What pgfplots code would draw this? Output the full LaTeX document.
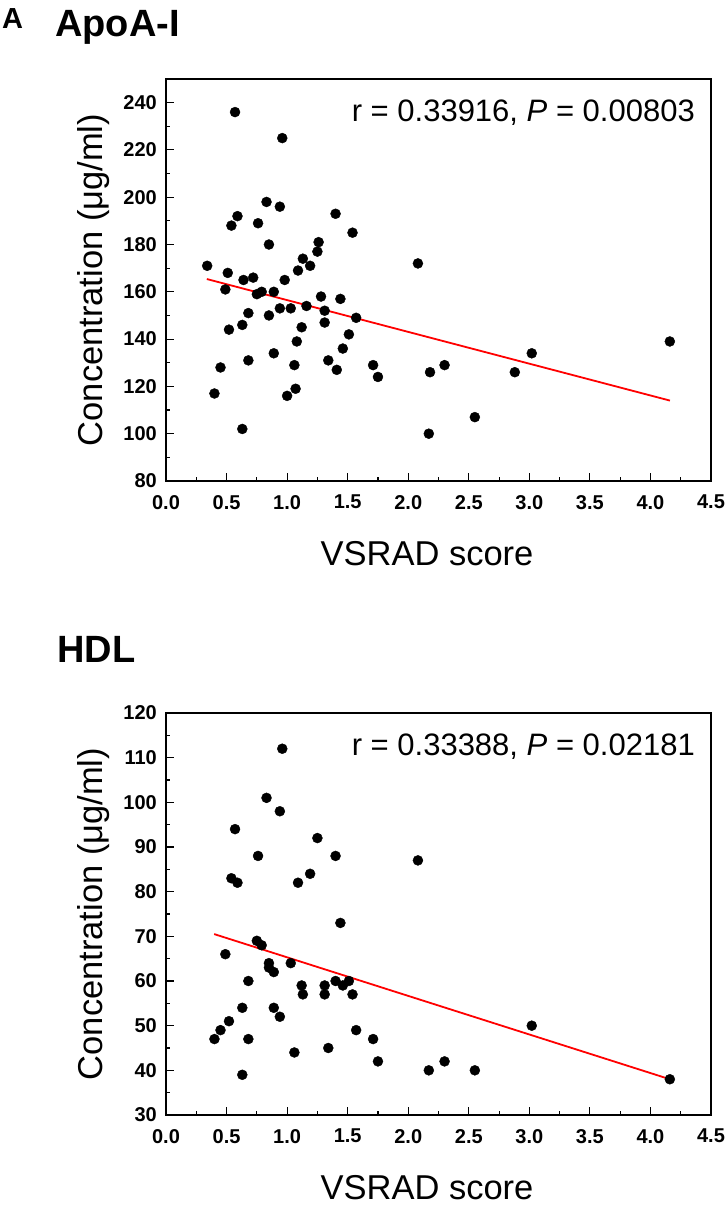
\documentclass[border=0pt]{standalone}
\usepackage{fontspec}
\setmainfont{Liberation Sans}
\usepackage{pgfplots}
\pgfplotsset{compat=1.18}

\pgfplotsset{
  vsrad/.style={
    scale only axis,
    width=545bp, height=402bp,
    anchor=south west,
    xmin=0, xmax=4.5,
    xtick={0,0.5,...,4.5},
    minor tick num=1,
    tick align=inside,
    xtick pos=bottom, ytick pos=left,
    major tick length=8bp, minor tick length=4bp,
    axis line style={line width=1.3bp},
    every tick/.style={line width=1.1bp, black},
    /pgf/number format/assume math mode=true,
    ticklabel style={font=\fontsize{20bp}{22bp}\selectfont\bfseries, inner sep=0pt},
    xticklabel style={anchor=north, yshift=-14bp,
      /pgf/number format/.cd, fixed, fixed zerofill, precision=1},
    yticklabel style={anchor=east, xshift=-9bp},
    label style={font=\fontsize{34.5bp}{36bp}\selectfont},
    xlabel={VSRAD score},
    ylabel={Concentration (μg/ml)},
    xlabel style={at={(axis description cs:0.479,-0.209)}, anchor=base},
    ylabel style={at={(axis description cs:-0.1174,0.5)}, anchor=base},
    clip=false,
  },
  dots/.style={only marks, mark=*, mark size=5bp, black},
  fit/.style={red, line width=1.8bp, no marks},
}

\begin{document}
\begin{tikzpicture}[x=1bp,y=1bp]
\path[use as bounding box] (0,0) rectangle (725,1208);

% ApoA-I
\begin{axis}[vsrad, at={(166bp,727bp)}, ymin=80, ymax=250, ytick={80,100,...,240}]
\addplot[dots] coordinates {
(0.34,171) (0.57,236) (0.96,225) (0.83,198) (0.94,196) (0.59,192)
(0.54,188) (0.76,189) (0.85,180) (1.40,193) (1.54,185) (1.26,181)
(1.25,177) (1.13,174) (1.19,171) (1.09,169) (2.08,172) (0.51,168)
(0.64,165) (0.72,166) (0.98,165) (0.49,161) (0.75,159) (0.79,160)
(0.89,160) (1.28,158) (1.44,157) (1.31,152) (1.16,154) (0.94,153)
(1.03,153) (0.85,150) (0.68,151) (1.57,149) (1.31,147) (0.63,146)
(0.52,144) (1.12,145) (1.51,142) (1.08,139) (1.46,136) (0.89,134)
(0.68,131) (1.34,131) (1.06,129) (1.71,129) (0.45,128) (1.41,127)
(1.75,124) (2.18,126) (2.30,129) (0.40,117) (1.07,119) (1.00,116)
(0.63,102) (2.17,100) (4.16,139) (3.02,134) (2.88,126) (2.55,107)
};
\addplot[fit] coordinates {(0.337,165.4) (4.161,114.0)};
\end{axis}

% HDL
\begin{axis}[vsrad, at={(166bp,93bp)}, ymin=30, ymax=120, ytick={30,40,...,120}]
\addplot[dots] coordinates {
(0.96,112) (0.83,101) (0.94,98) (0.57,94) (1.25,92) (0.76,88)
(1.40,88) (2.08,87) (1.19,84) (0.54,83) (0.59,82) (1.09,82)
(1.44,73) (0.75,69) (0.79,68) (0.49,66) (1.03,64) (0.85,64)
(0.85,63) (0.89,62) (0.68,60) (1.40,60) (1.51,60) (1.46,59)
(1.12,59) (1.31,59) (1.13,57) (1.31,57) (1.54,57) (0.63,54)
(0.89,54) (0.94,52) (0.52,51) (0.45,49) (1.57,49) (0.40,47)
(0.68,47) (1.71,47) (1.34,45) (1.06,44) (1.75,42) (2.30,42)
(2.17,40) (0.63,39) (3.02,50) (2.55,40) (4.16,38)
};
\addplot[fit] coordinates {(0.398,70.5) (4.161,38.0)};
\end{axis}

% panel letter, titles and statistics
\node[anchor=base west, inner sep=0pt, font=\fontsize{29bp}{30bp}\selectfont\bfseries] at (2,1179) {A};
\node[anchor=base west, inner sep=0pt, font=\fontsize{38bp}{40bp}\selectfont\bfseries] at (55,1171) {ApoA-I};
\node[anchor=base west, inner sep=0pt, font=\fontsize{38bp}{40bp}\selectfont\bfseries] at (57,545) {HDL};
\node[anchor=base east, inner sep=0pt, font=\fontsize{31bp}{32bp}\selectfont] at (695,1086) {r = 0.33916, \textit{P} = 0.00803};
\node[anchor=base east, inner sep=0pt, font=\fontsize{31bp}{32bp}\selectfont] at (695,452) {r = 0.33388, \textit{P} = 0.02181};
\end{tikzpicture}
\end{document}
